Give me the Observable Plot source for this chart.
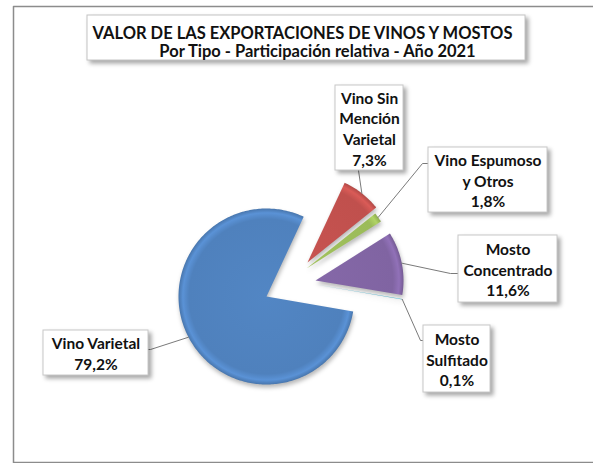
<!DOCTYPE html>
<html><head><meta charset="utf-8">
<script src="https://cdn.jsdelivr.net/npm/d3@7"></script>
<script src="https://cdn.jsdelivr.net/npm/@observablehq/plot@0.6"></script>
<style>body{margin:0;background:#fff;overflow:hidden;} svg{display:block;}</style>
</head><body><div id="chart"></div>
<script>
// ---- data ----
const titleLines = ["VALOR DE LAS EXPORTACIONES DE VINOS Y MOSTOS", "Por Tipo - Participación relativa - Año 2021"];
const categories = ["Vino Sin Mención Varietal", "Vino Espumoso y Otros", "Mosto Concentrado", "Mosto Sulfitado", "Vino Varietal"];
const labelNames = ["Vino Sin\nMención\nVarietal", "Vino Espumoso\ny Otros", "Mosto\nConcentrado", "Mosto\nSulfitado", "Vino Varietal"];
const shares = [7.3, 1.8, 11.6, 0.1, 79.2];
const colors = ["#c0504d", "#9bbb59", "#8064a2", "#4bacc6", "#4f81bd"];

// ---- layout ----
const W = 593, H = 463;
const pie = {cx: 266, cy: 296, r: 88, startDeg: 25};
const explode = [[41, -34], [40, -28], [49, -16], [49, -12], [0, 0]];
const boxes = [[335, 85, 403, 170], [428, 147, 547, 212], [458, 235, 557, 302], [423, 325, 490, 392], [43, 330, 148, 375]];
const leaderEnds = [[[358, 170]], [[422, 163], [428, 163]], [[450, 273], [458, 273]], [[420, 340], [425, 340]], [[150, 349], [143, 349]]];
const titleBox = [87, 15, 525, 60];
const titlePos = [[302, 33], [317, 51]];
const frameLine = [[W + 10, 6], [13, 6], [13, 462], [W + 10, 462]];

const fmt = v => d3.format(".1f")(v).replace(".", ",") + "%";
const total = d3.sum(shares);
let acc = pie.startDeg * Math.PI / 180;
const slices = shares.map((v, i) => {
  const a0 = acc, a1 = acc + v / total * 2 * Math.PI; acc = a1;
  const vx = pie.cx + explode[i][0], vy = pie.cy + explode[i][1];
  const pts = [{x: vx, y: vy}];
  const n = Math.max(2, Math.ceil((a1 - a0) / (Math.PI / 180)));
  for (let k = 0; k <= n; k++) {
    const a = a0 + (a1 - a0) * k / n;
    pts.push({x: vx + pie.r * Math.sin(a), y: vy - pie.r * Math.cos(a)});
  }
  const am = (a0 + a1) / 2;
  const start = {x: vx + pie.r * Math.sin(am), y: vy - pie.r * Math.cos(am)};
  return {i, name: categories[i], vx, vy, pts, start, color: colors[i]};
});

const leaders = slices.flatMap(s => [s.start, ...leaderEnds[s.i].map(([x, y]) => ({x, y}))].map(p => ({...p, id: s.i})));
const boxData = boxes.map(([x1, y1, x2, y2], i) => ({x1, y1, x2, y2, cx: (x1 + x2) / 2, cy: (y1 + y2) / 2, label: labelNames[i] + "\n" + fmt(shares[i])}));

const svg = Plot.plot({
  width: W, height: H,
  margin: 0, marginTop: 0, marginRight: 0, marginBottom: 0, marginLeft: 0,
  x: {type: "linear", domain: [0, W], range: [0, W], axis: null},
  y: {type: "linear", domain: [0, H], range: [0, H], axis: null},
  style: {fontFamily: "Lato, sans-serif", background: "#fff"},
  marks: [
    Plot.line(frameLine, {x: d => d[0], y: d => d[1], stroke: "#8c8c8c", strokeWidth: 1.5}),
    Plot.rect([titleBox], {x1: d => d[0], y1: d => d[1], x2: d => d[2], y2: d => d[3], fill: "white", stroke: "#c4c4c4", ariaDescription: "titlebox"}),
    Plot.text(titleLines, {x: (d, i) => titlePos[i][0], y: (d, i) => titlePos[i][1], text: d => d, fontSize: 16.5, fontWeight: "bold", fill: "#111"}),
    ...slices.map(s => Plot.line(s.pts, {x: "x", y: "y", curve: "linear-closed", fill: `url(#grad${s.i})`, stroke: "none", ariaDescription: "wedge"})),
    Plot.line(leaders, {x: "x", y: "y", z: "id", stroke: "#7a7a7a", strokeWidth: 1}),
    Plot.rect(boxData, {x1: "x1", y1: "y1", x2: "x2", y2: "y2", fill: "white", stroke: "#c8c8c8", ariaDescription: "boxes"}),
    Plot.text(boxData, {x: "cx", y: "cy", text: "label", lineAnchor: "middle", lineHeight: 1.33, fontSize: 15.5, fontWeight: "bold", fill: "#111"})
  ]
});

// gradients for a bevelled look
const ns = "http://www.w3.org/2000/svg";
const defs = document.createElementNS(ns, "defs");
const sx = svg.scale("x"), sy = svg.scale("y");
slices.forEach(s => {
  const g = document.createElementNS(ns, "radialGradient");
  g.setAttribute("id", "grad" + s.i);
  g.setAttribute("gradientUnits", "userSpaceOnUse");
  g.setAttribute("cx", sx.apply(s.vx)); g.setAttribute("cy", sy.apply(s.vy));
  g.setAttribute("r", pie.r);
  const c = d3.color(s.color);
  [[0, c.brighter(0.1)], [0.88, c], [0.95, c.brighter(0.35)], [1, c.darker(0.25)]].forEach(([o, col]) => {
    const st = document.createElementNS(ns, "stop");
    st.setAttribute("offset", o); st.setAttribute("stop-color", col.formatHex());
    g.appendChild(st);
  });
  defs.appendChild(g);
});
svg.insertBefore(defs, svg.firstChild);
svg.querySelectorAll('[aria-description="wedge"]').forEach(g => g.style.filter = "drop-shadow(1px 3px 2px rgba(0,0,0,0.28))");
svg.querySelectorAll('[aria-description="boxes"], [aria-description="titlebox"]').forEach(g => g.style.filter = "drop-shadow(3px 3px 2px rgba(0,0,0,0.35))");
document.getElementById("chart").appendChild(svg);
</script></body></html>
